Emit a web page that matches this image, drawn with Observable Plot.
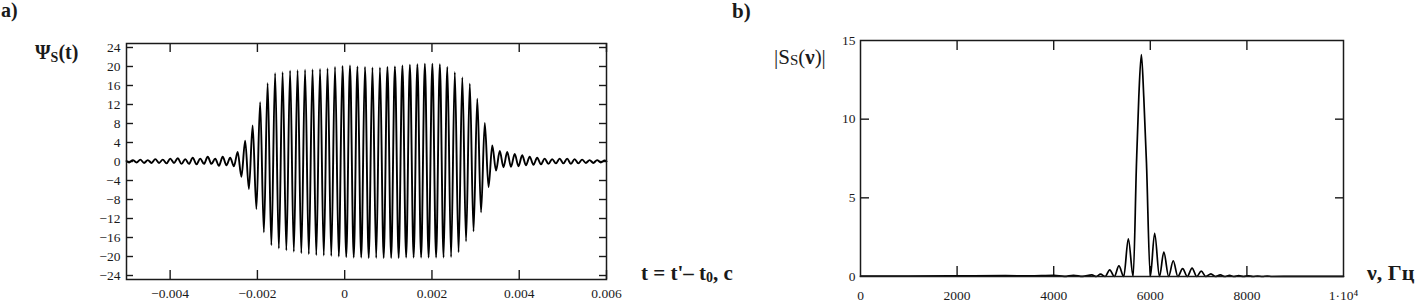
<!DOCTYPE html>
<html><head><meta charset="utf-8">
<script src="https://cdn.jsdelivr.net/npm/d3@7"></script>
<script src="https://cdn.jsdelivr.net/npm/@observablehq/plot@0.6"></script>
<style>
html,body{margin:0;padding:0;background:#fff;}
#wrap{position:relative;width:1426px;height:303px;overflow:hidden;background:#fff;
  font-family:'Liberation Serif','Times New Roman',Times,serif;}
#wrap > svg{position:absolute;top:0;overflow:visible;}
#wrap svg, #wrap svg text{font-family:'Liberation Serif','Times New Roman',Times,serif !important;}
</style></head><body><div id="wrap"></div>
<script>
// ---------- Panel a: Psi_S(t) — extrema (peaks / troughs) ----------
const timeUs = [
-5000, -4940.6, -4854.8, -4769.0, -4683.2, -4597.4, -4511.6, -4425.8, -4340.0, -4254.2,
-4168.4, -4082.6, -3996.8, -3911.0, -3825.2, -3739.4, -3653.6, -3567.8, -3482.0, -3396.2,
-3310.4, -3224.6, -3138.8, -3053.0, -2967.2, -2881.4, -2795.6, -2709.8, -2624.0, -2538.2,
-2452.4, -2366.6, -2280.8, -2195.0, -2109.2, -2023.4, -1937.6, -1851.8, -1766.0, -1680.2,
-1594.4, -1508.6, -1422.8, -1337.0, -1251.2, -1165.4, -1079.6, -993.8, -908.0, -822.2,
-736.4, -650.6, -564.8, -479.0, -393.2, -307.4, -221.6, -135.8, -50.0, 35.8,
121.6, 207.4, 293.2, 379.0, 464.8, 550.6, 636.4, 722.2, 808.0, 893.8,
979.6, 1065.4, 1151.2, 1237.0, 1322.8, 1408.6, 1494.4, 1580.2, 1666.0, 1751.8,
1837.6, 1923.4, 2009.2, 2095.0, 2180.8, 2266.6, 2352.4, 2438.2, 2524.0, 2609.8,
2695.6, 2781.4, 2867.2, 2953.0, 3038.8, 3124.6, 3210.4, 3296.2, 3382.0, 3467.8,
3553.6, 3639.4, 3725.2, 3811.0, 3896.8, 3982.6, 4068.4, 4154.2, 4240.0, 4325.8,
4411.6, 4497.4, 4583.2, 4669.0, 4754.8, 4840.6, 4926.4, 5012.2, 5098.0, 5183.8,
5269.6, 5355.4, 5441.2, 5527.0, 5612.8, 5698.6, 5784.4, 5870.2, 5956.0, 6000
];
const psi = [
0.1, -0.2, 0.3, -0.2, 0.4, -0.3, 0.3, -0.3, 0.5, -0.3,
0.4, -0.4, 0.6, -0.3, 0.7, -0.5, 0.5, -0.5, 0.8, -0.6,
0.6, -0.5, 1.0, -0.5, 0.6, -0.9, 1.0, -0.8, 0.8, -1.0,
2.0, -3.2, 4.4, -5.8, 7.6, -10.0, 12.5, -14.9, 16.5, -17.6,
18.6, -18.3, 18.8, -18.7, 19.1, -19.0, 19.2, -19.3, 19.3, -19.5,
19.4, -19.7, 19.5, -19.8, 19.6, -19.9, 19.9, -20.0, 20.1, -20.1,
20.2, -20.2, 20.0, -20.2, 19.9, -20.3, 19.8, -20.3, 19.8, -20.3,
19.9, -20.3, 20.0, -20.3, 20.2, -20.2, 20.4, -20.2, 20.5, -20.2,
20.6, -20.2, 20.6, -20.2, 20.5, -20.2, 19.9, -20.1, 18.8, -19.1,
17.7, -16.8, 16.4, -14.7, 13.2, -10.7, 8.1, -5.4, 3.4, -1.9,
2.2, -1.2, 2.0, -1.1, 1.6, -1.0, 1.3, -0.8, 1.0, -0.7,
0.8, -0.6, 0.6, -0.5, 0.5, -0.4, 0.6, -0.4, 0.6, -0.5,
0.5, -0.4, 0.4, -0.3, 0.3, -0.3, 0.3, -0.2, 0.2, 0.0
];
const xTicksA = [-0.004, -0.002, 0, 0.002, 0.004, 0.006];
const yTicksA = [-24, -20, -16, -12, -8, -4, 0, 4, 8, 12, 16, 20, 24];

// ---------- Panel b: |S_S(nu)| ----------
const nu = [0, 1000, 2000, 3000, 3500, 4000, 4220, 4410, 4600, 4790, 4880, 4970, 5065, 5160, 5255, 5350, 5450, 5545, 5645,
  5714, 5762, 5815, 5865, 5921, 6000, 6090, 6190, 6280, 6380, 6475, 6570, 6670, 6765, 6865, 6960, 7055, 7150, 7255, 7345,
  7450, 7540, 7640, 7735, 7830, 7930, 8030, 8125, 8220, 8320, 8420, 8520, 9000, 10000];
const spec = [0.02, 0.03, 0.04, 0.05, 0.04, 0.07, 0.01, 0.08, 0.01, 0.1, 0, 0.15, 0, 0.42, 0, 0.68, 0, 2.4, 0,
  7.2, 11.4, 14.1, 11.4, 7.2, 0, 2.75, 0, 1.55, 0, 1.0, 0, 0.5, 0, 0.53, 0, 0.34, 0, 0.17, 0,
  0.1, 0, 0.07, 0, 0.05, 0, 0.04, 0, 0.03, 0, 0.03, 0, 0.01, 0.01];
const xTicksB = [0, 2000, 4000, 6000, 8000, 10000];
const xTickLabelsB = ["0", "2000", "4000", "6000", "8000", "1\u00B710\u2074"];
const yTicksB = [0, 5, 10, 15];

// ---------- build ----------
const serif = "'Liberation Serif','Times New Roman',Times,serif";
const wrap = document.getElementById("wrap");
const n = Math.min(timeUs.length, psi.length);
const waveA = d3.range(n).map(i => ({t: timeUs[i] / 1e6, v: psi[i]}));
const specB = nu.map((f, i) => ({f, s: spec[i]}));
const fmtA = d => d === 0 ? "0" : (d < 0 ? "\u2212" : "") + String(Math.abs(d));
const ink = "#1a1a1a";

const AW = 640, AH = 303, aL = 126, aR = 34, aT = 43, aB = 24;
const aFH = AH - aT - aB, aFW = AW - aL - aR;
const plotA = Plot.plot({
  width: AW, height: AH, marginLeft: aL, marginRight: aR, marginTop: aT, marginBottom: aB,
  x: {domain: [-0.005, 0.006]},
  y: {domain: [-24.84, 24.84]},
  style: {fontFamily: serif, fontSize: "13.5px", color: ink, background: "transparent", overflow: "visible"},
  marks: [
    Plot.axisX(xTicksA, {tickSize: 0, tickPadding: 9, tickFormat: fmtA, label: null}),
    Plot.axisY(yTicksA, {tickSize: 0, tickPadding: 6, tickFormat: fmtA, label: null}),
    Plot.tickX(xTicksA, {x: d => d, insetBottom: aFH - 9, stroke: ink, strokeWidth: 1.4}),
    Plot.tickX(xTicksA, {x: d => d, insetTop: aFH - 9, stroke: ink, strokeWidth: 1.4}),
    Plot.tickY(yTicksA, {y: d => d, insetRight: aFW - 7, stroke: ink, strokeWidth: 1.4}),
    Plot.tickY(yTicksA, {y: d => d, insetLeft: aFW - 7, stroke: ink, strokeWidth: 1.4}),
    Plot.line(waveA, {x: "t", y: "v", curve: "monotone-x", stroke: "#000", strokeWidth: 1.9}),
    Plot.frame({stroke: ink, strokeWidth: 1.5})
  ]
});
plotA.style.left = "0px";
wrap.appendChild(plotA);

const BX = 760, BW = 640, BH = 303, bL = 100, bR = 57, bT = 40, bB = 27;
const bFH = BH - bT - bB, bFW = BW - bL - bR;
const plotB = Plot.plot({
  width: BW, height: BH, marginLeft: bL, marginRight: bR, marginTop: bT, marginBottom: bB,
  x: {domain: [0, 10000]},
  y: {domain: [0, 15]},
  style: {fontFamily: serif, fontSize: "13.5px", color: ink, background: "transparent", overflow: "visible"},
  marks: [
    Plot.axisX(xTicksB, {tickSize: 0, tickPadding: 14, tickFormat: (d, i) => xTickLabelsB[i], label: null}),
    Plot.axisY(yTicksB, {tickSize: 0, tickPadding: 5, label: null}),
    Plot.tickX(xTicksB.slice(1, -1), {x: d => d, insetBottom: bFH - 10, stroke: ink, strokeWidth: 1.4}),
    Plot.tickX(xTicksB.slice(1, -1), {x: d => d, insetTop: bFH - 10, stroke: ink, strokeWidth: 1.4}),
    Plot.tickY(yTicksB.slice(1, -1), {y: d => d, insetRight: bFW - 9, stroke: ink, strokeWidth: 1.4}),
    Plot.tickY(yTicksB.slice(1, -1), {y: d => d, insetLeft: bFW - 8, stroke: ink, strokeWidth: 1.4}),
    Plot.line(specB, {x: "f", y: "s", curve: "monotone-x", stroke: "#000", strokeWidth: 1.7}),
    Plot.frame({stroke: ink, strokeWidth: 1.5})
  ]
});
plotB.style.left = BX + "px";
wrap.appendChild(plotB);

// ---------- text overlay ----------
const ov = d3.create("svg").attr("width", 1426).attr("height", 303)
  .style("left", "0px").style("pointer-events", "none")
  .style("font-family", serif).attr("fill", ink);
ov.append("text").attr("x", 1).attr("y", 17).attr("font-size", 20).attr("font-weight", "bold").text("a)");
ov.append("text").attr("x", 732).attr("y", 18).attr("font-size", 21).attr("font-weight", "bold").text("b)");

const ya = ov.append("text").attr("x", 35).attr("y", 59).attr("font-size", 20).attr("font-weight", "bold");
ya.append("tspan").text("\u03A8");
ya.append("tspan").attr("font-size", 14).attr("dy", 3).text("S");
ya.append("tspan").attr("dy", -3).text("(t)");

const yb = ov.append("text").attr("x", 774).attr("y", 64).attr("font-size", 21);
yb.append("tspan").text("|S");
yb.append("tspan").attr("font-size", 15).attr("dy", 1).text("S");
yb.append("tspan").attr("dy", -1).text("(");
yb.append("tspan").attr("font-weight", "bold").text("\u03BD");
yb.append("tspan").text(")|");

const xa = ov.append("text").attr("x", 641).attr("y", 280).attr("font-size", 21).attr("font-weight", "bold");
xa.append("tspan").text("t = t'\u2013 t");
xa.append("tspan").attr("font-size", 14).attr("dy", 2).text("0");
xa.append("tspan").attr("dy", -2).text(", c");

ov.append("text").attr("x", 1367).attr("y", 280).attr("font-size", 22).attr("font-weight", "bold").text("\u03BD, \u0413\u0446");
wrap.appendChild(ov.node());
</script></body></html>
